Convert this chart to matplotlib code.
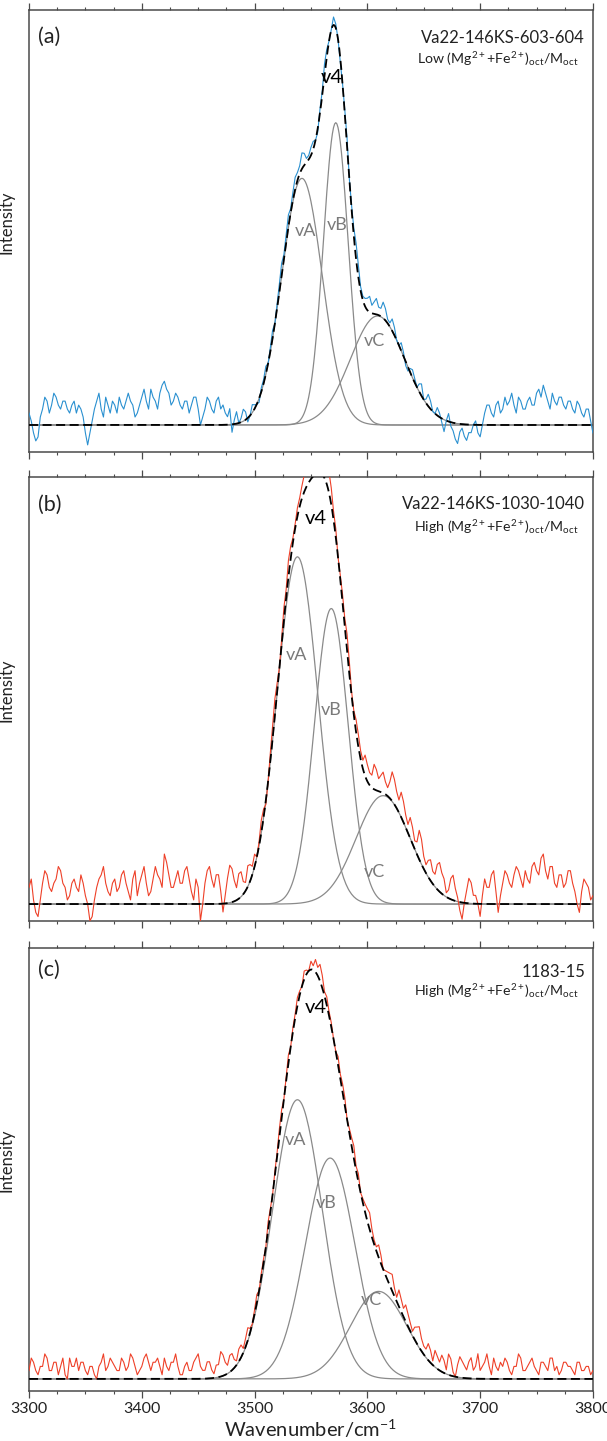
import numpy as np
import matplotlib
matplotlib.use("Agg")
import matplotlib.pyplot as plt
from matplotlib.ticker import MultipleLocator

plt.rcParams['font.family'] = ['Lato', 'DejaVu Sans']
plt.rcParams['mathtext.fontset'] = 'custom'
plt.rcParams['mathtext.rm'] = 'Lato'
plt.rcParams['mathtext.it'] = 'Lato:italic'
plt.rcParams['mathtext.bf'] = 'Lato:bold'

# ---------------- data ----------------
obs_start, obs_step = 3300, 2              # observed spectrum sampling (cm-1)
wn_fit = np.arange(3300, 3800.5, 1.0)      # positions for fitted band curves

panel_tags = ['(a)', '(b)', '(c)']
sample_names = ['Va22-146KS-603-604', 'Va22-146KS-1030-1040', '1183-15']
sample_notes = [r'Low (Mg$^{2+}$+Fe$^{2+}$)$_{\rm oct}$/M$_{\rm oct}$',
                r'High (Mg$^{2+}$+Fe$^{2+}$)$_{\rm oct}$/M$_{\rm oct}$',
                r'High (Mg$^{2+}$+Fe$^{2+}$)$_{\rm oct}$/M$_{\rm oct}$']
band_names = ['vA', 'vB', 'vC']

# fitted Gaussian bands: centre (cm-1), height (rel.), sigma (cm-1)
centers_a = [3542, 3572, 3609]
heights_a = [0.62, 0.76, 0.274]
sigmas_a = [18, 11, 24]

centers_b = [3538, 3568, 3614]
heights_b = [0.833, 0.709, 0.26]
sigmas_b = [18, 15, 24]

centers_c = [3538, 3567, 3610]
heights_c = [0.67, 0.53, 0.21]
sigmas_c = [22, 22, 25]

# observed minus fitted intensity (percent of peak), every 2 cm-1 from 3300
resid_a = [3, 1, -2, -4, -3, 2, 4, 7, 6, 3, 5, 8, 7, 5, 4, 6, 6, 4, 3, 5,
           6, 3, 5, 4, 2, -2, -5, -2, 1, 4, 6, 8, 4, 2, 7, 5, 3, 6, 5, 3,
           7, 5, 4, 6, 8, 6, 5, 2, 3, 5, 7, 9, 6, 4, 9, 7, 6, 4, 8, 10,
           11, 9, 8, 5, 6, 8, 7, 5, 4, 6, 6, 3, 5, 7, 7, 4, 0, 2, 4, 7,
           6, 4, 3, 6, 7, 4, 5, 3, 2, 4, -2, 1, 3, 0, 1, 3, 2, -1, 0, 2,
           1, 0, -1, 1, 1, 2, 0, 1, 2, 0, 1, 2, 3, 1, 2, 3, 1, 2, 3, 2,
           2, 4, 3, 1, 1, 2, 2, 0, -1, 1, 1, 3, 2, 0, 0, 2, 1, 0, -1, 0,
           1, 2, 0, 1, 2, 4, 3, 1, 1, 2, 3, 4, 2, 3, 4, 2, 2, 4, 3, 1,
           1, 3, 2, 0, 0, 2, 1, -1, -1, 1, 2, 1, 0, 2, 3, 0, 1, 3, 2, 0,
           0, 2, 1, -1, -3, 0, 2, -1, -2, -4, -5, -2, -1, -3, -4, -2, -2, 0, 1, -2,
           -3, 0, 3, 5, 5, 3, 2, 5, 6, 3, 4, 7, 5, 6, 8, 5, 3, 7, 6, 4,
           4, 6, 7, 5, 5, 8, 9, 7, 10, 8, 6, 4, 8, 6, 5, 7, 7, 5, 4, 6,
           6, 4, 3, 6, 5, 3, 2, 4, 4, 1, -2]
resid_b = [4, 6, 1, -2, -3, 1, 5, 8, 7, 4, 3, 5, 6, 9, 8, 5, 4, 1, 2, 5,
           6, 4, 3, 7, 5, 2, 0, -4, -3, 1, 4, 6, 7, 9, 5, 3, 2, 5, 6, 3,
           4, 7, 8, 5, 3, 1, 6, 8, 2, 5, 7, 9, 5, 2, 3, 6, 9, 7, 6, 4,
           12, 10, 7, 4, 4, 6, 8, 5, 5, 8, 9, 6, 3, 1, 6, 4, -4, 0, 5, 8,
           9, 6, 4, 7, 7, 3, -2, 2, 6, 9, 8, 5, 3, 6, 6, 3, 2, 5, 4, 2,
           3, 0, 1, 3, 2, -1, 0, 2, 3, 4, 2, 0, 1, 3, 2, 4, 3, 1, 1, 2,
           2, 3, 4, 5, 3, 5, 6, 9, 8, 6, 5, 4, 3, 5, 4, 2, 2, 0, 1, 2,
           2, 4, 3, 1, 1, 3, 3, 2, 2, 5, 4, 3, 3, 6, 5, 3, 4, 5, 3, 2,
           4, 7, 6, 4, 3, 6, 5, 3, 2, 5, 4, 2, 3, 7, 6, 3, 2, 4, 5, 3,
           3, 6, 7, 5, 4, 1, 2, 5, 6, 3, 1, -2, -4, 0, 3, 6, 5, 2, 2, 0,
           -3, 2, 6, 4, 4, 7, 8, 3, -2, 2, 5, 8, 7, 5, 4, 7, 9, 8, 6, 4,
           8, 6, 5, 9, 10, 8, 7, 11, 12, 8, 6, 9, 9, 5, 4, 7, 7, 4, 5, 8,
           8, 5, 3, 0, -2, 3, 6, 5, 4, 1, 2]
resid_c = [2, 5, 4, 2, 1, 3, 3, 6, 5, 2, 2, 4, 4, 1, 3, 5, 1, 0, 5, 3,
           3, 5, 2, 4, 4, 2, 1, 3, 3, 1, 0, 3, 4, 6, 2, 3, 5, 4, 3, 2,
           2, 5, 4, 2, 3, 6, 5, 3, 1, 2, 3, 5, 6, 4, 2, 4, 4, 5, 3, 1,
           5, 3, 2, 4, 4, 6, 3, 1, 1, 3, 4, 2, 2, 4, 5, 6, 3, 2, 2, 4,
           4, 2, 1, 3, 3, 6, 5, 3, 2, 4, 4, 2, 1, 3, 3, 1, 2, 3, 1, 0,
           1, 2, 0, 1, 1, 0, 2, 1, 0, 1, 1, 2, 2, 0, 1, 2, 0, 1, 1, 2,
           1, 0, 2, 1, 0, 2, 1, 3, 2, 4, 3, 1, 2, 1, 1, 0, 0, 2, 1, 2,
           2, 0, 1, 2, 3, 1, 2, 0, 1, 2, 3, 4, 2, 1, 1, 3, 2, 0, 1, 2,
           3, 4, 2, 1, 4, 3, 2, 4, 3, 2, 1, 3, 4, 5, 3, 2, 2, 4, 3, 1,
           4, 3, 2, 4, 3, 1, 5, 4, 1, 0, 3, 5, 4, 3, 2, 4, 5, 2, 3, 6,
           2, 3, 4, 6, 3, 1, 5, 3, 2, 4, 3, 5, 4, 2, 1, 3, 3, 6, 5, 2,
           2, 3, 4, 5, 3, 2, 1, 4, 4, 3, 2, 5, 5, 2, 3, 1, 2, 4, 4, 3,
           3, 2, 1, 4, 4, 2, 2, 3, 3, 1, 2]

xtick_values = [3300, 3400, 3500, 3600, 3700, 3800]

# ---------------- layout / style ----------------
axes_rects = [[0.0478, 0.6863, 0.9290, 0.3067],
              [0.0478, 0.3609, 0.9290, 0.3081],
              [0.0478, 0.0347, 0.9290, 0.3074]]
ylims = [(-0.068, 1.043), (-0.0405, 1.0245), (-0.029, 1.034)]
data_colors = ['#2a90d0', '#ee4028', '#ee4028']
# label positions (wavenumber, intensity) for v4, vA, vB, vC
label_pos = [
    [(3568.6, 0.874), (3544.7, 0.487), (3573.0, 0.503), (3606.7, 0.211)],
    [(3554.4, 0.926), (3537.6, 0.597), (3567.7, 0.465), (3606.7, 0.077)],
    [(3554.4, 0.892), (3536.7, 0.573), (3563.3, 0.422), (3604.0, 0.190)],
]
title_y = [(0.937, 0.889), (0.939, 0.887), (0.946, 0.902)]
tag_y = [0.939, 0.937, 0.950]

spine_col = '#4a4a4a'
band_col = '#8a8a8a'
text_col = '#222222'


def gauss(x, c, h, s):
    return h * np.exp(-0.5 * ((x - c) / s) ** 2)


fig = plt.figure(figsize=(6.07, 14.41), dpi=100)

params = [(centers_a, heights_a, sigmas_a, resid_a),
          (centers_b, heights_b, sigmas_b, resid_b),
          (centers_c, heights_c, sigmas_c, resid_c)]

for i, (cen, hei, sig, res) in enumerate(params):
    ax = fig.add_axes(axes_rects[i])
    wn_obs = obs_start + obs_step * np.arange(len(res))
    total_fit = np.zeros_like(wn_fit)
    total_obs = np.zeros(len(res))
    for c, h, s in zip(cen, hei, sig):
        comp = gauss(wn_fit, c, h, s)
        total_fit += comp
        total_obs += gauss(wn_obs, c, h, s)
        ax.plot(wn_fit, comp, color=band_col, lw=0.9, zorder=2)
    observed = total_obs + np.array(res) / 100.0
    ax.plot(wn_obs, observed, color=data_colors[i], lw=0.8, zorder=3)
    ax.plot(wn_fit, total_fit, color='black', lw=1.3, ls=(0, (5, 2.5)), zorder=4)

    ax.set_xlim(3300, 3800)
    ax.set_ylim(*ylims[i])
    ax.xaxis.set_major_locator(MultipleLocator(100))
    ax.xaxis.set_minor_locator(MultipleLocator(25))
    ax.set_xticks(xtick_values)
    ax.tick_params(axis='x', which='both', bottom=True, top=True,
                   labelbottom=(i == 2), color=spine_col, labelsize=11.5,
                   labelcolor=text_col, pad=3)
    ax.tick_params(axis='x', which='major', length=5, width=0.9)
    ax.tick_params(axis='x', which='minor', length=2.5, width=0.8)
    ax.tick_params(axis='y', left=False, right=False, labelleft=False)
    for sp in ax.spines.values():
        sp.set_color(spine_col)
        sp.set_linewidth(1.1)

    ax.set_ylabel('Intensity', fontsize=12, color=text_col)
    ax.yaxis.set_label_coords(-0.026, 0.52)

    ax.text(0.016, tag_y[i], panel_tags[i], transform=ax.transAxes,
            ha='left', va='center', fontsize=15.5, color=text_col)
    ax.text(0.986, title_y[i][0], sample_names[i], transform=ax.transAxes,
            ha='right', va='center', fontsize=12, color=text_col)
    ax.text(0.975, title_y[i][1], sample_notes[i], transform=ax.transAxes,
            ha='right', va='center', fontsize=10.2, color=text_col)

    lp = label_pos[i]
    ax.text(lp[0][0], lp[0][1], 'v4', ha='center', va='center',
            fontsize=14.5, color='black', zorder=5)
    for (x, y), nm in zip(lp[1:], band_names):
        ax.text(x, y, nm, ha='center', va='center', fontsize=13,
                color='#7a7a7a', zorder=5)

    if i == 2:
        ax.set_xlabel('Wavenumber/cm$^{-1}$', fontsize=14.5, color=text_col,
                      labelpad=1)

fig.savefig('out.png', dpi=100)
